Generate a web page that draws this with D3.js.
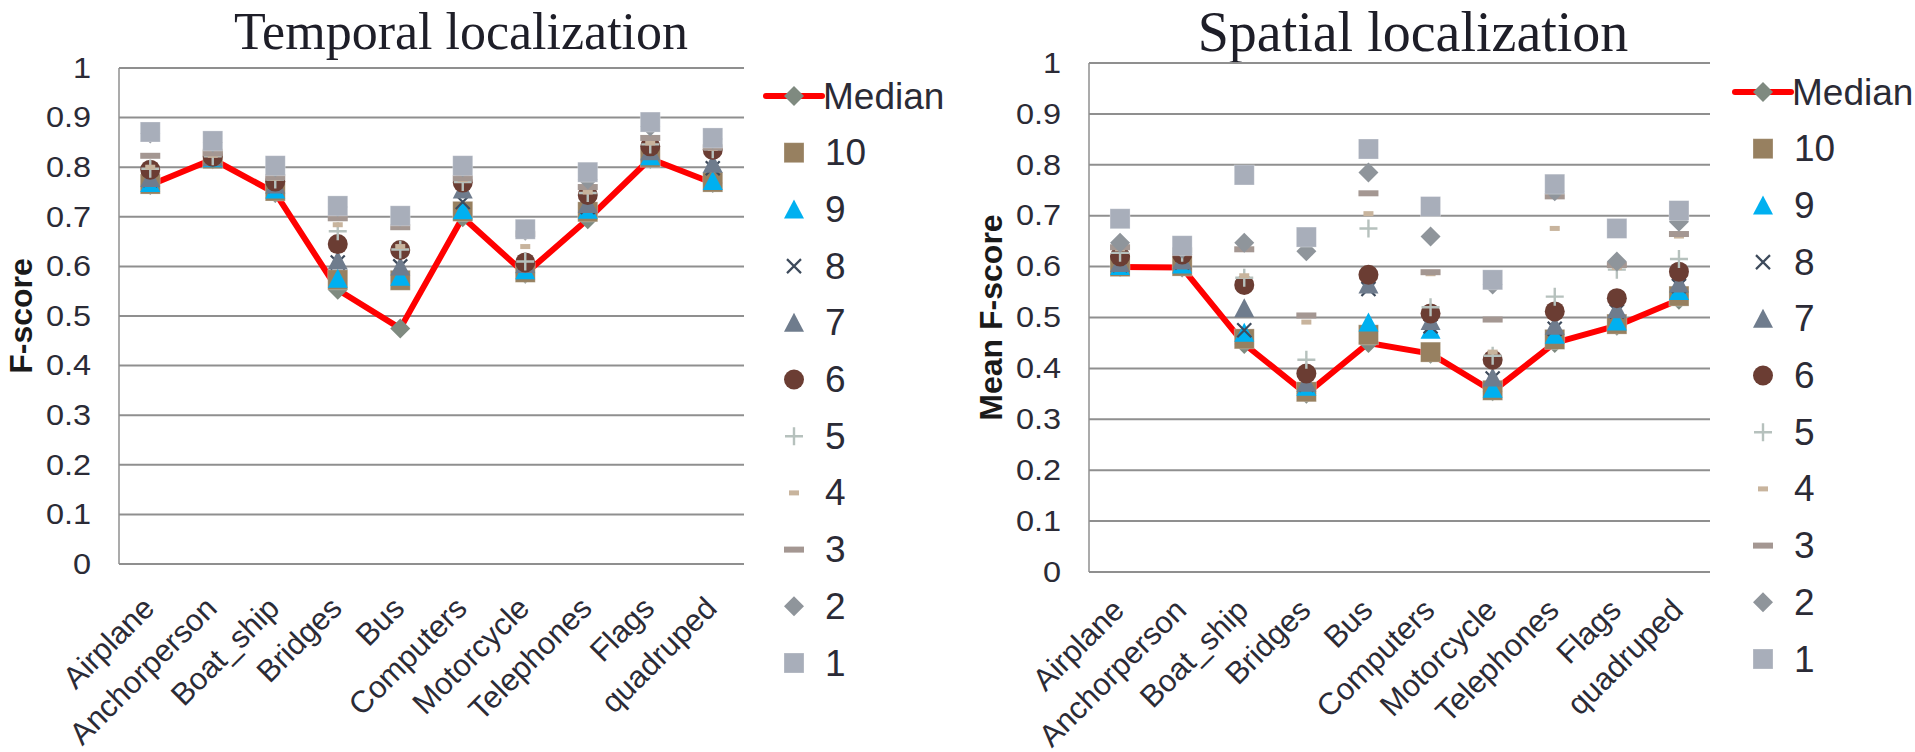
<!DOCTYPE html>
<html>
<head>
<meta charset="utf-8">
<script src="https://cdn.jsdelivr.net/npm/d3@7"></script>
<style>
  html, body { margin: 0; padding: 0; background: #ffffff; }
  svg { display: block; }
  text { font-family: "Liberation Sans", Arial, sans-serif; fill: #2b2b36; }
</style>
</head>
<body>
<svg id="chart" width="1915" height="752"></svg>
<script>
// Object classes on the x axis
const categories = ["Airplane", "Anchorperson", "Boat_ship", "Bridges", "Bus",
  "Computers", "Motorcycle", "Telephones", "Flags", "quadruped"];

// Series names, in legend order
const seriesNames = ["Median", "10", "9", "8", "7", "6", "5", "4", "3", "2", "1"];

// Y tick labels
const yTicks = [0, 0.1, 0.2, 0.3, 0.4, 0.5, 0.6, 0.7, 0.8, 0.9, 1];

// Temporal localization: F-score per class
const tMedian = [0.764, 0.816, 0.748, 0.553, 0.475, 0.699, 0.585, 0.695, 0.817, 0.768];
const t10 = [0.766, 0.817, 0.752, 0.573, 0.572, 0.711, 0.588, 0.710, 0.820, 0.770];
const t9  = [0.768, 0.818, 0.755, 0.575, 0.579, 0.713, 0.592, 0.714, 0.822, 0.772];
const t8  = [0.774, 0.819, 0.762, 0.608, 0.600, 0.730, 0.604, 0.720, 0.830, 0.798];
const t7  = [0.778, 0.820, 0.765, 0.612, 0.600, 0.755, 0.605, 0.726, 0.832, 0.807];
const t6  = [0.795, 0.821, 0.771, 0.645, 0.633, 0.769, 0.608, 0.744, 0.842, 0.835];
const t5  = [0.797, 0.822, 0.775, 0.671, 0.634, 0.770, 0.610, 0.748, 0.846, 0.836];
const t4  = [0.800, 0.824, 0.778, 0.684, 0.640, 0.775, 0.640, 0.750, 0.849, 0.838];
const t3  = [0.823, 0.828, 0.780, 0.697, 0.679, 0.778, 0.665, 0.760, 0.859, 0.840];
const t2  = [0.868, 0.850, 0.800, 0.720, 0.700, 0.800, 0.672, 0.775, 0.882, 0.857];
const t1  = [0.871, 0.853, 0.803, 0.722, 0.702, 0.803, 0.675, 0.790, 0.891, 0.859];

// Spatial localization: mean F-score per class
const sMedian = [0.599, 0.598, 0.448, 0.350, 0.450, 0.429, 0.355, 0.450, 0.484, 0.535];
const s10 = [0.600, 0.601, 0.458, 0.354, 0.466, 0.432, 0.357, 0.457, 0.487, 0.542];
const s9  = [0.601, 0.604, 0.470, 0.364, 0.490, 0.476, 0.360, 0.466, 0.492, 0.552];
const s8  = [0.603, 0.608, 0.475, 0.368, 0.556, 0.483, 0.380, 0.478, 0.512, 0.562];
const s7  = [0.607, 0.612, 0.518, 0.372, 0.565, 0.493, 0.382, 0.484, 0.516, 0.567];
const s6  = [0.620, 0.624, 0.564, 0.390, 0.584, 0.508, 0.417, 0.512, 0.538, 0.590];
const s5  = [0.627, 0.627, 0.578, 0.417, 0.675, 0.520, 0.425, 0.541, 0.594, 0.615];
const s4  = [0.635, 0.630, 0.582, 0.491, 0.704, 0.586, 0.432, 0.675, 0.598, 0.660];
const s3  = [0.638, 0.632, 0.634, 0.504, 0.744, 0.589, 0.496, 0.738, 0.603, 0.664];
const s2  = [0.647, 0.635, 0.647, 0.630, 0.785, 0.659, 0.565, 0.748, 0.610, 0.688];
const s1  = [0.694, 0.641, 0.780, 0.658, 0.831, 0.718, 0.574, 0.762, 0.675, 0.710];

const temporalSeries = [tMedian, t10, t9, t8, t7, t6, t5, t4, t3, t2, t1];
const spatialSeries  = [sMedian, s10, s9, s8, s7, s6, s5, s4, s3, s2, s1];

// Marker styles per series
const markerStyle = {
  "Median": { shape: "diamond", color: "#7f8a80" },
  "10": { shape: "square",   color: "#978060" },
  "9":  { shape: "triangle", color: "#00b0f0" },
  "8":  { shape: "cross",    color: "#3e4b5c" },
  "7":  { shape: "triangle", color: "#6f7c8d" },
  "6":  { shape: "circle",   color: "#6b3d33" },
  "5":  { shape: "plus",     color: "#b6c1bd" },
  "4":  { shape: "smalldash",color: "#c8b49d" },
  "3":  { shape: "dash",     color: "#a49792" },
  "2":  { shape: "diamond",  color: "#8f959b" },
  "1":  { shape: "square",   color: "#a8aeba" }
};

function drawMarker(g, shape, color, x, y) {
  switch (shape) {
    case "square":
      g.append("rect").attr("x", x - 10).attr("y", y - 10).attr("width", 20).attr("height", 20)
        .attr("fill", color).attr("stroke", "#ffffff").attr("stroke-opacity", 0.35).attr("stroke-width", 0.8);
      break;
    case "triangle":
      g.append("path").attr("d", `M${x},${y - 10}L${x + 10},${y + 9}L${x - 10},${y + 9}Z`).attr("fill", color);
      break;
    case "diamond":
      g.append("path").attr("d", `M${x},${y - 10}L${x + 10},${y}L${x},${y + 10}L${x - 10},${y}Z`).attr("fill", color);
      break;
    case "circle":
      g.append("ellipse").attr("cx", x).attr("cy", y).attr("rx", 10).attr("ry", 10).attr("fill", color);
      break;
    case "cross":
      g.append("path").attr("d", `M${x - 7},${y - 7}L${x + 7},${y + 7}M${x + 7},${y - 7}L${x - 7},${y + 7}`)
        .attr("stroke", color).attr("stroke-width", 2.2).attr("fill", "none");
      break;
    case "plus":
      g.append("path").attr("d", `M${x - 9},${y}L${x + 9},${y}M${x},${y - 9}L${x},${y + 9}`)
        .attr("stroke", color).attr("stroke-width", 2.4).attr("fill", "none");
      break;
    case "dash":
      g.append("rect").attr("x", x - 10).attr("y", y - 3).attr("width", 20).attr("height", 6).attr("fill", color);
      break;
    case "smalldash":
      g.append("rect").attr("x", x - 5).attr("y", y - 2.5).attr("width", 10).attr("height", 5).attr("fill", color);
      break;
  }
}

const svg = d3.select("#chart");

function drawPanel(cfg, series) {
  const g = svg.append("g");
  const x = d3.scaleBand().domain(categories).range([cfg.left, cfg.right]);
  const y = d3.scaleLinear().domain([0, 1]).range([cfg.bottom, cfg.top]);

  // Title
  g.append("text")
    .attr("x", cfg.titleX).attr("y", cfg.titleY)
    .attr("text-anchor", "middle")
    .style("font-family", "'Liberation Serif', 'Times New Roman', serif")
    .style("font-size", cfg.titleSize + "px")
    .style("fill", "#1e1e28")
    .text(cfg.title);

  // Gridlines
  g.append("g").selectAll("line").data(yTicks).join("line")
    .attr("x1", cfg.left).attr("x2", cfg.right)
    .attr("y1", d => y(d)).attr("y2", d => y(d))
    .attr("stroke", "#8f8f8f").attr("stroke-width", 2);

  // Y axis line
  g.append("line")
    .attr("x1", cfg.left).attr("x2", cfg.left)
    .attr("y1", y(1)).attr("y2", y(0))
    .attr("stroke", "#8f8f8f").attr("stroke-width", 1.5);

  // Y tick labels (slightly widened glyphs)
  const yAxis = d3.axisLeft(y).tickValues(yTicks).tickSize(0).tickPadding(25)
    .tickFormat(d => d3.format("")(+d.toFixed(1)));
  const ya = g.append("g").attr("transform", `translate(${cfg.left},0)`).call(yAxis);
  ya.select(".domain").remove();
  ya.selectAll("text")
    .style("font-size", "29px")
    .style("font-family", "'Liberation Sans', Arial, sans-serif")
    .attr("fill", "#2b2b36")
    .attr("transform", "scale(1.12,1)");

  // Y axis title
  g.append("text")
    .attr("transform", `translate(${cfg.yTitleX},${(cfg.top + cfg.bottom) / 2}) rotate(-90)`)
    .attr("text-anchor", "middle")
    .attr("dominant-baseline", "central")
    .style("font-size", "32px")
    .style("font-weight", "bold")
    .style("fill", "#1a1a1a")
    .text(cfg.yTitle);

  // X category labels, rotated
  g.append("g").selectAll("text").data(categories).join("text")
    .attr("transform", d => `translate(${x(d) + x.bandwidth() / 2 + 6},${cfg.bottom + cfg.labelOffset}) rotate(-45)`)
    .attr("text-anchor", "end")
    .style("font-size", "31px")
    .text(d => d);

  // Median line
  const line = d3.line()
    .x((d, i) => x(categories[i]) + x.bandwidth() / 2)
    .y(d => y(d));
  g.append("path").datum(series[0]).attr("d", line)
    .attr("fill", "none").attr("stroke", "#ff0000").attr("stroke-width", 6)
    .attr("stroke-linejoin", "round");

  // Markers: median first, then 10 down to 1 on top
  seriesNames.forEach((name, si) => {
    const st = markerStyle[name];
    const mg = g.append("g");
    series[si].forEach((v, i) => {
      drawMarker(mg, st.shape, st.color, x(categories[i]) + x.bandwidth() / 2, y(v));
    });
  });

  // Legend
  const lg = g.append("g");
  seriesNames.forEach((name, i) => {
    const ly = cfg.legendY + i * cfg.legendStep;
    const st = markerStyle[name];
    if (name === "Median") {
      lg.append("line").attr("x1", cfg.legendX - 28).attr("x2", cfg.legendX + 28)
        .attr("y1", ly).attr("y2", ly)
        .attr("stroke", "#ff0000").attr("stroke-width", 6).attr("stroke-linecap", "round");
    }
    drawMarker(lg, st.shape, st.color, cfg.legendX, ly);
    lg.append("text")
      .attr("x", cfg.legendX + (name === "Median" ? 29 : 31)).attr("y", ly)
      .attr("dominant-baseline", "central")
      .style("font-size", "37px")
      .text(name);
  });
}

drawPanel({
  title: "Temporal localization", titleX: 461, titleY: 49, titleSize: 52,
  yTitle: "F-score", yTitleX: 21,
  left: 119, right: 744, top: 68, bottom: 564, labelOffset: 46,
  legendX: 794, legendY: 96, legendStep: 56.7
}, temporalSeries);

drawPanel({
  title: "Spatial localization", titleX: 1413, titleY: 51, titleSize: 56,
  yTitle: "Mean F-score", yTitleX: 991,
  left: 1089, right: 1710, top: 63, bottom: 572, labelOffset: 40,
  legendX: 1763, legendY: 92, legendStep: 56.7
}, spatialSeries);
</script>
</body>
</html>
